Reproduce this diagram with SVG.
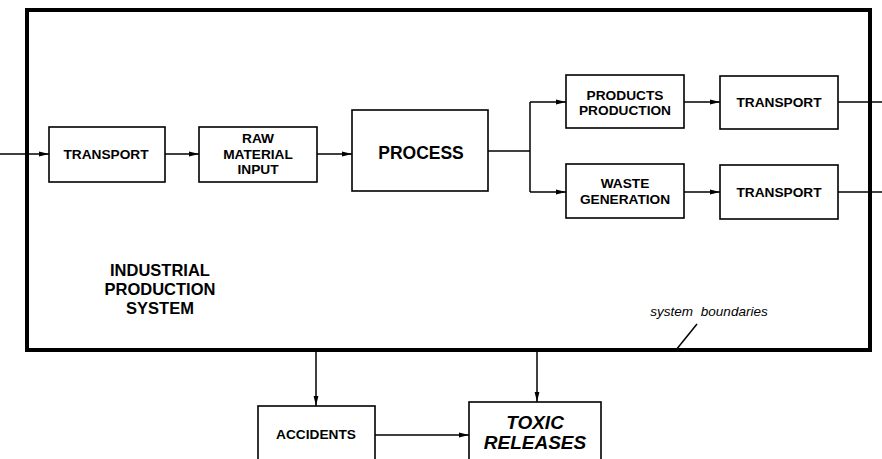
<svg xmlns="http://www.w3.org/2000/svg" width="882" height="459" viewBox="0 0 882 459">
<defs>
<marker id="ah" markerWidth="10" markerHeight="6" refX="10" refY="3" orient="auto" markerUnits="userSpaceOnUse">
<path d="M0,0.6 L10,3 L0,5.4 Z" fill="#000"/>
</marker>
<style>
.box{fill:#fff;stroke:#000;stroke-width:1.6}
.t{font-family:"Liberation Sans",Arial,sans-serif;font-weight:bold;font-size:13.7px;text-anchor:middle;fill:#000}
.c{fill:none;stroke:#000;stroke-width:1.5}
</style>
</defs>
<rect width="882" height="459" fill="#fff"/>
<g id="boundary">
<rect x="27" y="10" width="843" height="340" fill="none" stroke="#000" stroke-width="4"/>
</g>
<g id="connectors">
<path class="c" d="M0,154 H49" marker-end="url(#ah)"/>
<path class="c" d="M165,154 H199" marker-end="url(#ah)"/>
<path class="c" d="M317,154 H352" marker-end="url(#ah)"/>
<path class="c" d="M488,151 H530"/>
<path class="c" d="M530,102 V192"/>
<path class="c" d="M530,102 H566" marker-end="url(#ah)"/>
<path class="c" d="M530,192 H566" marker-end="url(#ah)"/>
<path class="c" d="M684,102 H720" marker-end="url(#ah)"/>
<path class="c" d="M684,192 H720" marker-end="url(#ah)"/>
<path class="c" d="M838,102 H882"/>
<path class="c" d="M838,192 H882"/>
<path class="c" d="M316,352 V406" marker-end="url(#ah)"/>
<path class="c" d="M537,352 V402" marker-end="url(#ah)"/>
<path class="c" d="M375,435 H469" marker-end="url(#ah)"/>
<path class="c" d="M697,324 L676,350"/>
</g>
<g id="transport-in">
<rect class="box" x="49" y="127" width="116" height="55"/>
<text class="t" x="106" y="159">TRANSPORT</text>
</g>
<g id="raw-material">
<rect class="box" x="199" y="127" width="118" height="55"/>
<text class="t" x="258" y="143">RAW</text>
<text class="t" x="258" y="159">MATERIAL</text>
<text class="t" x="258" y="174">INPUT</text>
</g>
<g id="process">
<rect class="box" x="352" y="110" width="136" height="81" stroke-width="2"/>
<text class="t" x="421" y="159" style="font-size:17.5px">PROCESS</text>
</g>
<g id="products">
<rect class="box" x="566" y="75" width="118" height="53"/>
<text class="t" x="625" y="100">PRODUCTS</text>
<text class="t" x="625" y="115">PRODUCTION</text>
</g>
<g id="transport-products">
<rect class="box" x="720" y="76" width="118" height="53"/>
<text class="t" x="779" y="107">TRANSPORT</text>
</g>
<g id="waste">
<rect class="box" x="566" y="164" width="118" height="54"/>
<text class="t" x="625" y="188">WASTE</text>
<text class="t" x="625" y="204">GENERATION</text>
</g>
<g id="transport-waste">
<rect class="box" x="720" y="165" width="118" height="54"/>
<text class="t" x="779" y="197">TRANSPORT</text>
</g>
<g id="system-label">
<text class="t" x="160" y="276" style="font-size:16.5px">INDUSTRIAL</text>
<text class="t" x="160" y="295" style="font-size:16.5px">PRODUCTION</text>
<text class="t" x="160" y="314" style="font-size:16.5px">SYSTEM</text>
</g>
<g id="boundary-label">
<text x="709" y="316" style="font-family:'Liberation Sans',Arial,sans-serif;font-style:italic;font-size:13.5px;text-anchor:middle;word-spacing:4px">system boundaries</text>
</g>
<g id="accidents">
<rect class="box" x="258" y="406" width="117" height="60"/>
<text class="t" x="316" y="439">ACCIDENTS</text>
</g>
<g id="toxic">
<rect class="box" x="469" y="402" width="132" height="64" stroke-width="2"/>
<text class="t" x="535" y="429" style="font-size:19px;font-style:italic">TOXIC</text>
<text class="t" x="535" y="449" style="font-size:19px;font-style:italic">RELEASES</text>
</g>
</svg>
